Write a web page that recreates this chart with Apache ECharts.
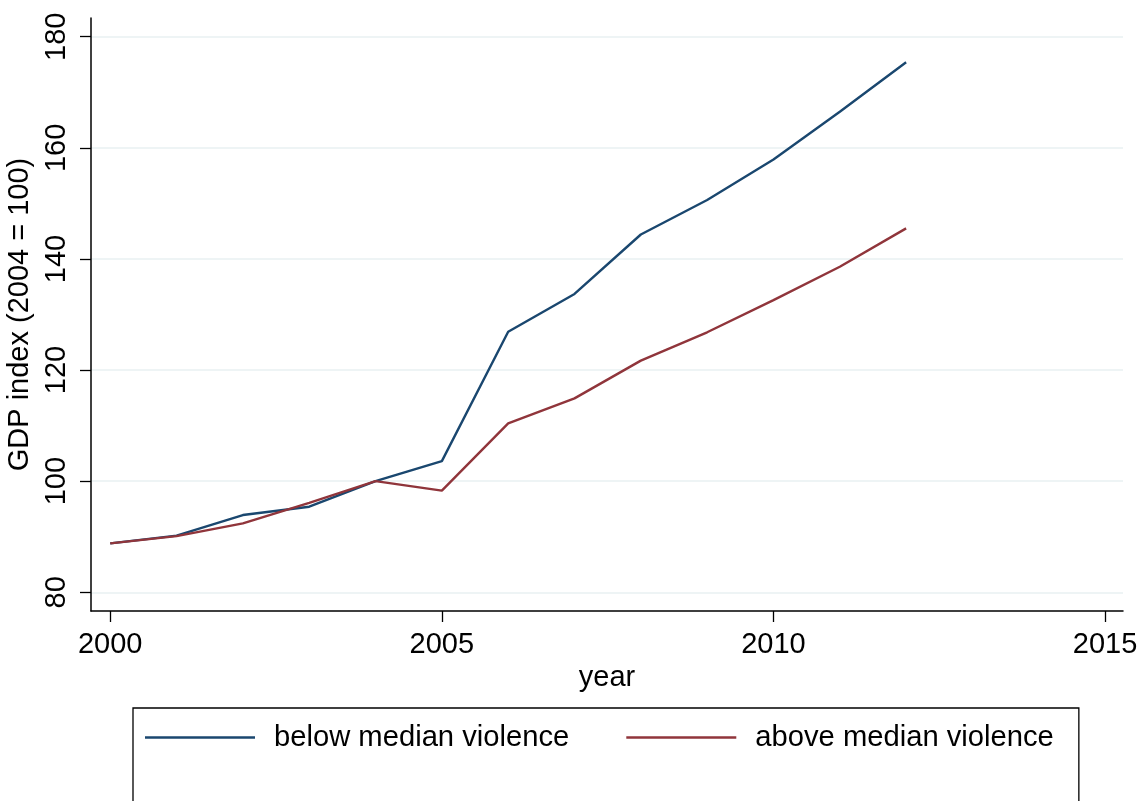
<!DOCTYPE html>
<html>
<head>
<meta charset="utf-8">
<script src="https://cdn.jsdelivr.net/npm/echarts@6/dist/echarts.min.js"></script>
<style>
html,body{margin:0;padding:0;background:#fff;}
#chart{width:1140px;height:801px;}
</style>
</head>
<body>
<div id="chart"></div>
<script>
const years = [2000,2001,2002,2003,2004,2005,2006,2007,2008,2009,2010,2011,2012];
const belowMedian = [88.8,90.2,93.9,95.4,100.0,103.6,126.9,133.7,144.4,150.6,157.9,166.5,175.4];
const aboveMedian = [88.8,90.1,92.4,96.1,100.0,98.3,110.4,114.9,121.7,126.8,132.6,138.6,145.5];
const xTicks = [2000,2005,2010,2015];
const yTicks = [80,100,120,140,160,180];
const seriesNames = ['below median violence','above median violence'];

const FONT = 'Liberation Sans, Arial, Helvetica, sans-serif';
const chart = echarts.init(document.getElementById('chart'));
const pair = (xs, ys) => xs.map((x,i)=>[x, ys[i]]);

chart.setOption({
  animation: false,
  backgroundColor: '#ffffff',
  grid: {left: 91, right: 17, top: 18, bottom: 190, containLabel: false, outerBoundsMode: 'none'},
  xAxis: {
    type: 'value',
    min: 1999.71, max: 2015.27,
    name: 'year', nameLocation: 'middle', nameGap: 50,
    nameTextStyle: {fontFamily: FONT, fontSize: 29, color: '#000'},
    axisLine: {show: true, lineStyle: {color: '#000', width: 1.5}},
    axisTick: {show: true, length: 11, customValues: xTicks, lineStyle: {color: '#000', width: 1.3}},
    axisLabel: {customValues: xTicks, margin: 19, fontFamily: FONT, fontSize: 29, color: '#000',
                formatter: v => String(Math.round(v))},
    splitLine: {show: false}
  },
  yAxis: {
    type: 'value',
    min: 76.63, max: 183.37,
    name: 'GDP index (2004 = 100)', nameLocation: 'middle', nameGap: 51, nameRotate: 90,
    nameTextStyle: {fontFamily: FONT, fontSize: 29, color: '#000'},
    axisLine: {show: true, lineStyle: {color: '#000', width: 1.5}},
    axisTick: {show: true, length: 11, customValues: yTicks, lineStyle: {color: '#000', width: 1.3}},
    axisLabel: {customValues: yTicks, rotate: 90, margin: 20, fontFamily: FONT, fontSize: 29, color: '#000',
                formatter: v => String(Math.round(v))},
    splitLine: {show: true, lineStyle: {color: '#e8f0f2', width: 1.6}}
  },
  legend: {
    left: 133, top: 708,
    orient: 'horizontal',
    data: seriesNames.map(n => ({name: n, icon: 'rect'})),
    itemWidth: 110, itemHeight: 2.5, itemGap: 57,
    borderColor: '#000', borderWidth: 1.3,
    padding: [15, 25, 90, 12],
    textStyle: {fontFamily: FONT, fontSize: 29.2, color: '#000', padding: [0,0,0,14]}
  },
  series: [
    {name: seriesNames[0], type: 'line', data: pair(years, belowMedian), symbol: 'none',
     lineStyle: {color: '#1a476f', width: 2.4}, itemStyle: {color: '#1a476f'}},
    {name: seriesNames[1], type: 'line', data: pair(years, aboveMedian), symbol: 'none',
     lineStyle: {color: '#90353b', width: 2.4}, itemStyle: {color: '#90353b'}}
  ]
});
</script>
</body>
</html>
